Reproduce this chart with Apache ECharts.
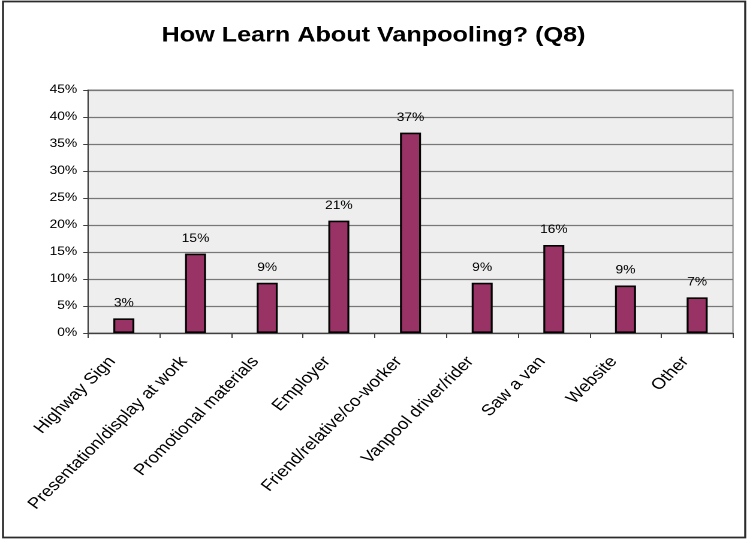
<!DOCTYPE html>
<html>
<head>
<meta charset="utf-8">
<title>How Learn About Vanpooling? (Q8)</title>
<script src="https://cdn.jsdelivr.net/npm/echarts@6/dist/echarts.min.js"></script>
<style>
  html, body { margin: 0; padding: 0; background: #ffffff; overflow: hidden; }
  /* The chart is laid out on a narrower canvas and widened horizontally,
     giving the broad, stretched lettering of the original figure. */
  #chart {
    width: 623px;
    height: 539px;
    transform: scaleX(1.19904);
    transform-origin: 0 0;
  }
</style>
</head>
<body>
<div id="chart"></div>
<script>
// Survey question 8: how respondents learned about vanpooling
const categories = [
  'Highway Sign',
  'Presentation/display at work',
  'Promotional materials',
  'Employer',
  'Friend/relative/co-worker',
  'Vanpool driver/rider',
  'Saw a van',
  'Website',
  'Other'
];
// Share of respondents, in percent
const shares = [2.7, 14.7, 9.3, 20.8, 37.1, 9.3, 16.3, 8.8, 6.6];
// Value axis
const yMin = 0;
const yMax = 45;
const yStep = 5;

const FONT = '"Liberation Sans", Arial, sans-serif';

const chart = echarts.init(document.getElementById('chart'), null, {
  renderer: 'canvas',
  devicePixelRatio: 2
});

chart.setOption({
  animation: false,
  backgroundColor: '#ffffff',
  title: {
    text: 'How Learn About Vanpooling? (Q8)',
    left: 'center',
    top: 20,
    textStyle: {
      fontFamily: FONT,
      fontSize: 21,
      fontWeight: 'bold',
      color: '#000000'
    }
  },
  graphic: [{
    type: 'rect',
    shape: { x: 2.5, y: 1.5, width: 619, height: 536 },
    style: { fill: null, stroke: '#2b2b2b', lineWidth: 1.7 },
    silent: true,
    z: 100
  }],
  grid: {
    left: 73.4,
    right: 11.7,
    top: 90,
    bottom: 206,
    show: true,
    backgroundColor: '#eeeeee',
    borderColor: '#808080',
    borderWidth: 1
  },
  xAxis: {
    type: 'category',
    data: categories,
    boundaryGap: true,
    axisLine: { show: true, lineStyle: { color: '#404040', width: 1.2 } },
    axisTick: { show: true, inside: false, length: 5, alignWithLabel: false,
                lineStyle: { color: '#404040', width: 1 } },
    axisLabel: {
      interval: 0,
      rotate: 49.5,
      margin: 14.5,
      align: 'right',
      verticalAlign: 'middle',
      padding: [0, 15, 0, 0],
      fontFamily: FONT,
      fontSize: 15.6,
      color: '#000000'
    },
    splitLine: { show: false }
  },
  yAxis: {
    type: 'value',
    min: yMin,
    max: yMax,
    interval: yStep,
    axisLine: { show: true, lineStyle: { color: '#404040', width: 1 } },
    axisTick: { show: true, inside: false, length: 4,
                lineStyle: { color: '#404040', width: 1 } },
    axisLabel: {
      margin: 9,
      formatter: '{value}%',
      fontFamily: FONT,
      fontSize: 11.5,
      color: '#000000'
    },
    splitLine: { show: true, lineStyle: { color: '#777777', width: 1.3 } }
  },
  series: [{
    type: 'bar',
    data: shares,
    barWidth: 17.5,
    itemStyle: {
      color: '#993366',
      borderColor: '#000000',
      borderWidth: 1.6
    },
    label: {
      show: true,
      position: 'top',
      distance: 9,
      fontFamily: FONT,
      fontSize: 11.5,
      color: '#000000',
      formatter: p => Math.round(p.value) + '%'
    }
  }]
});
</script>
</body>
</html>
